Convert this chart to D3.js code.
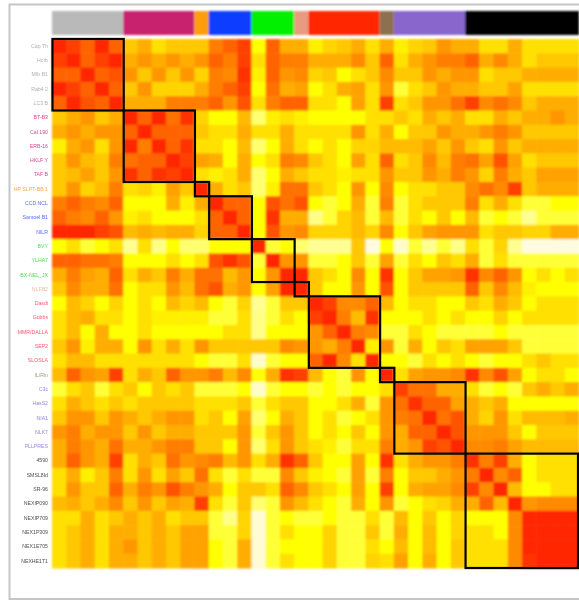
<!DOCTYPE html>
<html>
<head>
<meta charset="utf-8">
<script src="https://cdnjs.cloudflare.com/ajax/libs/d3/7.8.5/d3.min.js"></script>
<style>html,body{margin:0;padding:0;background:#fff;overflow:hidden}svg{display:block}</style>
</head>
<body>
<svg id="chart" width="579" height="600"></svg>
<script>
const labels = ["Cap Th","Hcrb","MIb B1","Rab4 2","LC3 B","BT-B3","Cal 190","ERB-16","HKLF Y","TAF B","HP SLPT-BB 1","CCD NCL","Samoel B1","NILR","BVY","YLHA7","BX-NEL_JX","NLFB2","Dasdi","Gubbs","MMR/DALLA","SEP2","SLOSLA","IL/Rin","C3c","HasS2","NIA1","NLK7","PLLPRES","4590","SMSL8Id","SR-96","NEXIP090","NEXIP709","NEX1P309","NEX1E705","NEXHE1T1"];
const groupSizes = [5,5,1,3,3,1,5,1,5,8];
const groupColors = ["#b9b9b9","#c8246e","#ff9d0a","#0a3cff","#00f000","#e89a80","#ff2800","#8c7050","#8866cc","#000000"];
const labelColors = ["#b0b0b0","#d84a90","#ffa840","#5a68ff","#50e050","#f4b8a4","#ff5870","#a09a88","#9a84e4","#505050"];
const levels = [0,1,2,3,4,5,6,7,8,9,10];
const levelColors = ["#fffbe0","#ffff70","#ffff00","#ffe000","#ffc800","#ffae00","#ff9600","#ff7e00","#ff6400","#ff4000","#ff2600"];
const matrix = [
[10,9,8,10,8,4,5,3,4,4,4,7,8,9,2,8,5,5,2.5,3.5,4,5,3,5,2.5,3.5,4,6,5,5,3,3,5,3,3,3,3],
[9,10,8,9,10,5,6,5,6,5,6,8,7,9,3,8,7,7,5,5,5,6.5,4,8,3,5,6,7,7,8,5,6.5,5,3,4,4,4],
[8,8,10,8,8.5,6,4,6,4,6,3.5,7,6.5,9.5,2.5,8,6,6.5,3.5,4,2,3,4,6.5,4,4,6,5,6,6,3,4,4,5,5,5,5],
[10,9,8,10,8,4,6,3.5,3.5,3.5,5,7,8,9,2,7.5,5,5.5,2,3,5,5.5,3,6,1.5,3,4,6,5,5,4,4,5.5,3,3,3,3],
[8,10,8.5,8,10,5,5,5,7,7,7,8,6,8.5,3,7,8,8,3,3,2,5.5,3,9,3,4,6,6,7.5,9,6.5,7.5,6.5,4,5,5,5],
[4,5,6,4,5,10,8,10,7.5,9.5,3.5,2,2,4.5,1,2.5,3,2.5,2,2,2,2,3,3,4,3,5,4,5,3,3,5,4,5,5,6,5],
[5,6,5,6,6,8,10,8,8,8,4,3,3,5,3,3,5,3,3,3,3,6,3,5,2,4,4,6,5,5,6,7,6,4,4,4,4],
[2.5,5,6,3,6,10,7,10,8,9.5,3,3,2,4.5,1,2,5,3,2,3,2,3.5,3.5,4.5,4.5,4.5,5.5,4,6,4,3,6,4,5,5,5,5],
[4,6,4.5,4,7,7.5,8,8,10,9,5.5,5,2,5,2,3,7,6.5,4,3,2,5.5,3,8,3,4,6.5,4.5,7,7.5,5.5,8.5,5.5,3,4,4,4],
[4,4.5,5.5,4,6,9.5,8,9.5,9,10,3,2.5,3,5,1,2,5,4,3,3,2.5,3,3,6,4,4,6,5,7,6,3.5,7,5,4,5.5,5.5,5.5],
[4,6,3.5,4.5,7,3,3.5,2.5,5.5,4,10,5,3,4,1,2.5,7.5,7.5,4,3,2,6,2,6.5,2,3,3,4,4,6.5,7.5,6.5,9,4,5,5,5],
[7,8,7,6.5,8,2,2,2,5,2.5,5,10,8,8,2,8.5,7.5,8.5,2,1.5,2,5,1.5,7,1.5,3,4,4,4,7,3,5,3,1.5,1.5,2,2],
[8,7,6.5,8,6,2.5,3,2,2,2,3,8,10,8,2,9.5,5,5,0.8,1.5,3.5,4.5,1.5,4.5,1.5,3,2,4,2,4.5,1.5,2,1.5,0.7,1.5,1.5,1.5],
[10,10,10,9,8.5,4.5,5,4.5,5,5,3.5,8,8,10,2,8.5,6,6.5,3.5,3.5,3.5,4.5,3.5,6.5,2,4,5.5,6,6,6,3,4,4,3.5,3.5,5,5],
[2,3,1.5,2,3,0.7,3,0.8,2,1,1,2,2,2,10,1.5,2,1,0.7,0.7,0.7,4,0,2,0.2,1.5,0.7,1.5,0.8,3,1.5,3.5,0.7,0,0,0,0],
[8,8,7.5,7.5,7,2,2,2,3,2,3,8.5,9.5,8.5,1.5,10,6,6,1.5,1.5,2,4,1.5,5.5,1.5,3,2,4,3,5,1.5,3,1.5,1.5,1.5,1.5,1.5],
[5,7,5.5,5,8,3,5,4,7,5,7.5,7.5,4.5,6,2,6,10,10,4,3,2,6.5,2,9.5,2,4,5.5,5.5,6,9.5,6.5,8,6,2,3,2,3],
[4,6.5,5,5,7.5,2,3,3,6,4.5,7.5,8.5,5,6,2,5.5,10,10,4,2,2,6,2,8.5,2,4,4,4,4,8,4,6.5,4.5,2.5,2,2,2],
[2,4.5,3.5,2,3.5,2,3,2,4.5,3.5,4.5,2,1.5,3.5,0.7,1.5,4,4,10,9,6.5,6.5,8,4.5,2,3,3,2,2,4,3,5,4,2,3,3,3],
[3,4.5,5,3,3,2,3,2.5,2.5,2.5,2.5,1.5,1.5,3,0.8,1.5,3,2,9,10,7,4.5,9.5,2,2,2,3,2,3,2,2,3.5,2,3,3,3,3],
[3,4.5,2,5,2,2,3,2,2,2,2,2,3,3,0.8,2,2,2,6,8,10,7,6.5,1.5,1.5,3,2,1.5,1.5,1.5,1.5,2,1.5,1.5,1.5,1.5,1.5],
[4,6,2.5,5,5,2,6,3,5,3,6,4,4,4,4,4,6.5,6,6,5,7,10,2.5,6,1.5,5,2,4,3,5.5,5.5,5.5,4,1.5,1.5,1.5,1.5],
[3,4.5,4.5,3,3,3,3,3,3,3,2,1.5,1.5,3,0.2,1.5,2,2,8,10,6.5,3,10,2,2,1.5,3,2,3,2,1.5,2,2,3,4,3,3],
[4.5,8,6,5.5,9,3,5,4,8,6,6,7,4.5,6.5,2,5,9.5,9,4.5,2,1.5,6,2,10,3,5.5,6,6,6.5,9.5,6.5,8.5,5.5,2,3,3,2],
[1.5,3,4,1.5,3,4,2,4,3,4,1.5,1.5,1.5,2,0.2,1.5,2,2,1.5,2,1.5,2,2,3,9,7.5,7.5,5,5,3,1.5,2,1.5,4,5,4,5],
[3,5,4,3,4,3,4,4,4,4,3,3,3,4,1.5,3,4,4,2,2,3,5,1.5,6,7.5,9.5,8,8,5.5,5,4,5,2,2,2,2,2],
[4,6,6,4,6,5,4,5,6,6,3,4,2,5.5,1,2,5,4,2,3,1.5,2,3,6,7,7.5,10,7.5,8.5,5,3.5,6,3,4.5,4.5,4.5,5],
[6,7,5,6,6,4,6,4,5,5,4,4,4,6,1.5,4,6,4,2,3,2,4,2,6,5,8,8,10,8.5,6,6,6,4,2,4,4,4],
[5,7,6,5,7.5,5,5,6,7,7,4,4,2,6,1,3,6,4,3,2.5,1.5,3,3,7,5,6,9,8.5,10,6.5,6.5,7,5.5,4.5,4.5,4.5,4.5],
[5,8,6,5,9,3,5,4,7.5,6,6.5,7,4.5,6,3,5,9.5,8,4,2,2,5.5,2,9.5,3,5,6,6,7,9.5,7,9,5,2,3,3,3],
[3,5,2.5,4,7,3,6,3,5.5,4,7.5,3,1.5,3,1.5,1.5,6.5,4,2.5,2,1.5,5.5,1.5,7,2,4,4,5,6,7,10,6.5,8,2,3,3,3],
[3,6,4,4,8,5,7,6,8.5,7,6,5,2,4,4,3,8,6.5,4,3,2,5.5,2,9,2,5,5.5,5.5,6.5,9,6.5,10,4.5,2,2,3,3],
[4.5,5,4,5,6.5,4,6,4,5.5,5,9,3,1.5,4,1,1.5,6,4.5,3,2,1.5,5,2,6,1.5,2,3,3.5,5,5,8,4.5,10,6,6.5,6.5,6.5],
[3,3,5,3,4,5,4,5,3,4,4,1.5,0.8,3.5,0.1,1.5,2,1.5,1.5,2,1.5,1.5,3,1.5,4.5,2,4,2,3.5,2,2,2,6.5,10,10,10,10],
[3,4,5,3,5,5,4,5,4,5.5,5.5,1.5,1.5,3.5,0.1,1.5,3,2,2,3.5,1.5,1.5,4,1.5,5,2,4.5,2,3.5,3,3,2,6.5,10,10,10,10],
[3,4,5,3,5,6,4,5,4,5.5,5.5,2,1.5,5,0.1,1.5,2,2,2,3.5,1.5,1.5,3,2,4.5,2,4.5,2,4,3,3,3,6.5,10,10,10,10],
[3,4,5,3,5,5,4,5,4,5.5,5.5,2,1.5,5,0.1,1.5,3,2,2,3.5,1.5,1.5,3.5,3,5.5,2,5,2,4,3,3,3,6.5,9.5,10,10,10]
];

const idx = d3.range(labels.length);
const x = d3.scaleBand().domain(idx).range([52, 579]);
const y = d3.scaleBand().domain(idx).range([39, 568]);
const color = d3.scaleLinear().domain(levels).range(levelColors);

const groupOf = [];
groupSizes.forEach((n, g) => d3.range(n).forEach(() => groupOf.push(g)));
let start = 0;
const groups = groupSizes.map((n, g) => { const o = {g, i0: start, n}; start += n; return o; });

const svg = d3.select("#chart");
const defs = svg.append("defs");
defs.append("filter").attr("id","soft").attr("x","-5%").attr("y","-5%").attr("width","110%").attr("height","110%")
  .append("feGaussianBlur").attr("stdDeviation",1.1);
defs.append("filter").attr("id","softText").attr("x","-10%").attr("y","-2%").attr("width","120%").attr("height","104%")
  .append("feGaussianBlur").attr("stdDeviation",0.5);
defs.append("filter").attr("id","softBox").attr("x","-5%").attr("y","-5%").attr("width","110%").attr("height","110%")
  .append("feGaussianBlur").attr("stdDeviation",0.4);

// frame
svg.append("rect").attr("x",9.5).attr("y",4.5).attr("width",600).attr("height",594.5)
  .attr("fill","none").attr("stroke","#c6c6c6").attr("stroke-width",2);

const plot = svg.append("g").attr("filter","url(#soft)");

// colour bar
plot.append("g").selectAll("rect").data(groups).join("rect")
  .attr("x", d => x(d.i0)).attr("y", 11)
  .attr("width", d => x.step() * d.n).attr("height", 24)
  .attr("fill", d => groupColors[d.g]);

// cells
plot.append("g").selectAll("g").data(matrix).join("g")
  .attr("transform", (row, i) => `translate(0,${y(i)})`)
  .selectAll("rect").data(row => row).join("rect")
  .attr("x", (v, j) => x(j)).attr("y", 0)
  .attr("width", x.bandwidth() + 0.5).attr("height", y.bandwidth() + 0.5)
  .attr("fill", v => color(v));

// boxes
const boxes = svg.append("g").attr("filter","url(#softBox)");
boxes.selectAll("rect").data(groups).join("rect")
  .attr("x", d => x(d.i0) + 0.5).attr("y", d => y(d.i0))
  .attr("width", d => Math.min(x.step() * d.n, 578 - x(d.i0) - 0.5)).attr("height", d => y.step() * d.n)
  .attr("fill","none").attr("stroke","#000").attr("stroke-width",2.2);

// row labels
const axis = d3.axisLeft(y).tickSize(0).tickPadding(0).tickFormat(i => labels[i]);
const axisG = svg.append("g").attr("transform","translate(48,0)").attr("filter","url(#softText)").call(axis);
axisG.select(".domain").remove();
axisG.selectAll("text")
  .attr("font-family","'Liberation Sans',Arial,sans-serif").attr("font-size",5.2)
  .attr("fill", i => labelColors[groupOf[i]]);
</script>
</body>
</html>
